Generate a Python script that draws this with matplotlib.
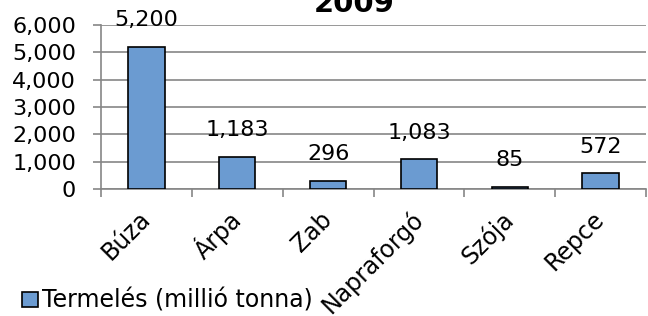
import matplotlib
matplotlib.use("Agg")
import matplotlib.pyplot as plt
from matplotlib.ticker import FuncFormatter

categories = ["Búza", "Árpa", "Zab", "Napraforgó", "Szója", "Repce"]
values = [5200, 1183, 296, 1083, 85, 572]
series_name = "Termelés (millió tonna)"
title = "2009"

bar_color = "#6b9bd1"
grid_color = "#868686"

fig = plt.figure(figsize=(6.48, 3.16), dpi=100)
ax = fig.add_axes([101 / 648, 1 - 189 / 316, 545 / 648, 164 / 316])

x = range(len(categories))
bars = ax.bar(x, values, width=0.4, color=bar_color, edgecolor="black",
              linewidth=1.2, label=series_name, zorder=3)
ax.bar_label(bars, labels=[f"{v:,}" for v in values], padding=12, fontsize=16)

ax.set_xlim(-0.5, len(categories) - 0.5)
ax.set_ylim(0, 6000)
ax.set_yticks(range(0, 6001, 1000))
ax.yaxis.set_major_formatter(FuncFormatter(lambda v, p: f"{int(v):,}"))
ax.yaxis.grid(True, color=grid_color, linewidth=1.2, zorder=0)

# category separators as tick marks
ax.set_xticks([i - 0.5 for i in range(len(categories) + 1)], minor=False)
ax.set_xticklabels([])
ax.set_xticks(list(x), minor=True)
ax.set_xticklabels(categories, minor=True, rotation=45, ha="right",
                   va="center", rotation_mode="anchor", fontsize=17)
ax.tick_params(axis="x", which="minor", length=0, pad=19)
ax.tick_params(axis="x", which="major", length=6, color=grid_color, width=1.2)
ax.tick_params(axis="y", length=6, color=grid_color, width=1.2, pad=12,
               labelsize=16)

for s in ["top", "right"]:
    ax.spines[s].set_visible(False)
for s in ["left", "bottom"]:
    ax.spines[s].set_color(grid_color)
    ax.spines[s].set_linewidth(1.2)

fig.text(354 / 648, 1 - 12 / 316, title, ha="center", va="baseline",
         fontsize=21, fontweight="bold")

fig.legend(loc="lower left", bbox_to_anchor=(0.02, -0.02), frameon=False,
           fontsize=17, handlelength=0.65, handleheight=0.65, handletextpad=0.2,
           borderaxespad=0)

fig.savefig("out.png", dpi=100)
